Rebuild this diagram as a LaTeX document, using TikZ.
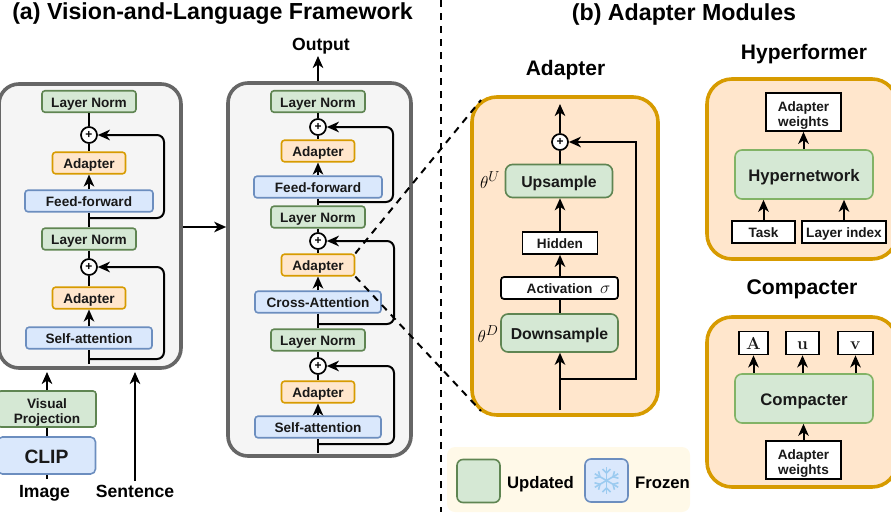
\documentclass[tikz,border=0pt]{standalone}
\usepackage[no-math]{fontspec}
\setmainfont{Liberation Sans}
\usetikzlibrary{arrows.meta}
\definecolor{gfill}{HTML}{D5E8D4}\definecolor{gline}{HTML}{5F8552}
\definecolor{bfill}{HTML}{DAE8FC}\definecolor{bline}{HTML}{6C8EBF}
\definecolor{ofill}{HTML}{FFE6CC}\definecolor{oline}{HTML}{D79B00}
\definecolor{panelgray}{HTML}{F5F5F5}\definecolor{panelline}{HTML}{666666}
\definecolor{legendfill}{HTML}{FFF9E8}\definecolor{flake}{HTML}{9CCBF0}
\definecolor{hgreen}{HTML}{82B366}
\tikzset{
 x=1pt,y=-1pt,
 txt/.style={font=\fontsize{#1}{#1}\selectfont\bfseries,text height=0.72*#1 pt,text depth=0pt},
 btxt/.style={font=\fontsize{#1}{#1}\selectfont\bfseries,text height=0.82*#1 pt,text depth=0pt},
 box/.style={draw,line width=1.6pt,inner sep=0pt,align=center,btxt=13.6,text=black!90},
 twoline/.style={text height=28.2pt,text depth=0pt},
 gbox/.style={box,fill=gfill,draw=gline,rounded corners=3pt,minimum height=21.5pt,minimum width=94pt},
 bbox/.style={box,fill=bfill,draw=bline,rounded corners=3pt,minimum height=21.5pt},
 obox/.style={box,fill=ofill,draw=oline,rounded corners=3pt,minimum height=21.5pt,minimum width=73pt},
 wbox/.style={box,fill=white,draw=black,line width=1.7pt},
 hgbox/.style={box,fill=gfill,draw=hgreen,rounded corners=7pt,minimum width=138pt,minimum height=49pt,btxt=16.7},
 plusnode/.style={circle,draw=black,fill=white,line width=1.7pt,minimum size=16pt,inner sep=0pt,font=\fontsize{12}{12}\selectfont\bfseries},
 panel/.style={draw=panelline,fill=panelgray,line width=3.6pt,rounded corners=20pt,inner sep=0pt},
 opanel/.style={draw=oline,fill=ofill,line width=3.6pt,rounded corners=25pt,inner sep=0pt},
 conn/.style={line width=2pt,draw=black},
 arr/.style={conn,-{Stealth[length=12pt,width=10.5pt,inset=3.5pt]}},
 branch/.style={arr,rounded corners=7pt},
 label/.style={inner sep=0pt,txt=#1},
 dashline/.style={line width=2pt,dash pattern=on 7pt off 6pt},
 math/.style={inner sep=0pt,font=\fontsize{19}{19}\selectfont},
 letter/.style={wbox,font=\fontsize{18}{18}\selectfont,text height=12pt,text depth=0pt,minimum height=23pt},
}
\begin{document}
\begin{tikzpicture}
\useasboundingbox (0,0) rectangle (891,512);
% titles
\node[label=23.2] (ta) at (212.5,11.5) {(a) Vision-and-Language Framework};
\node[label=23.2] (tb) at (684,12) {(b) Adapter Modules};
\node[label=17.6] (tout) at (321,44) {Output};
\node[label=21] (tad) at (565.5,68) {Adapter};
\node[label=21] (thy) at (804,52) {Hyperformer};
\node[label=21.2] (tco) at (802,287) {Compacter};
% left panel
\node[panel,minimum width=182pt,minimum height=284pt] (pl) at (90,226) {};
\node[gbox] (l1) at (89,101.5) {Layer Norm};
\node[plusnode] (lp1) at (89,135) {+};
\node[obox] (la1) at (89,163) {Adapter};
\node[bbox,minimum width=128pt] (lf) at (89,201) {Feed-forward};
\node[gbox] (l2) at (89,239) {Layer Norm};
\node[plusnode] (lp2) at (89,267) {+};
\node[obox] (la2) at (89,298) {Adapter};
\node[bbox,minimum width=126pt] (ls) at (89,338) {Self-attention};
\coordinate (lb1) at (89,218);\coordinate (lc1) at (164,218);\coordinate (lc2) at (164,135);
\coordinate (lb2) at (89,359);\coordinate (lc3) at (164,359);\coordinate (lc4) at (164,267);\coordinate (lbot) at (89,364);
\draw[conn] (l1) -- (lp1); \draw[conn] (lp1) -- (la1); \draw[arr] (lf) -- (la1);
\draw[conn] (lf) -- (l2); \draw[conn] (l2) -- (lp2); \draw[conn] (lp2) -- (la2);
\draw[arr] (ls) -- (la2); \draw[conn] (lbot) -- (ls);
\draw[branch] (lb1) -- (lc1) -- (lc2) -- (lp1.east);
\draw[branch] (lb2) -- (lc3) -- (lc4) -- (lp2.east);
% middle panel
\node[panel,minimum width=183pt,minimum height=373pt] (pm) at (319.5,269.5) {};
\node[gbox] (m1) at (318,101.5) {Layer Norm};
\node[plusnode] (mp1) at (318,127) {+};
\node[obox] (ma1) at (318,151) {Adapter};
\node[bbox,minimum width=128pt] (mf) at (318,187) {Feed-forward};
\node[gbox] (m2) at (318,217) {Layer Norm};
\node[plusnode] (mp2) at (318,241) {+};
\node[obox] (ma2) at (318,265) {Adapter};
\node[bbox,minimum width=126pt] (mc) at (318,302) {Cross-Attention};
\node[gbox] (m3) at (318,340) {Layer Norm};
\node[plusnode] (mp3) at (318,366) {+};
\node[obox] (ma3) at (318,392) {Adapter};
\node[bbox,minimum width=126pt] (ms) at (318,427) {Self-attention};
\coordinate (mb1) at (318,202);\coordinate (mc1) at (393,202);\coordinate (mc2) at (393,127);
\coordinate (mb2) at (318,324);\coordinate (mc3) at (394,324);\coordinate (mc4) at (394,241);
\coordinate (mb3) at (318,444);\coordinate (mc5) at (394,444);\coordinate (mc6) at (394,366);\coordinate (mbot) at (318,453);
\coordinate (mout) at (318,56);
\draw[arr] (pm.north -| m1) -- (mout);
\draw[conn] (m1) -- (mp1); \draw[conn] (mp1) -- (ma1); \draw[arr] (mf) -- (ma1);
\draw[conn] (mf) -- (m2); \draw[conn] (m2) -- (mp2); \draw[conn] (mp2) -- (ma2);
\draw[arr] (mc) -- (ma2); \draw[conn] (mc) -- (m3); \draw[conn] (m3) -- (mp3); \draw[conn] (mp3) -- (ma3);
\draw[arr] (ms) -- (ma3); \draw[conn] (mbot) -- (ms);
\draw[branch] (mb1) -- (mc1) -- (mc2) -- (mp1.east);
\draw[branch] (mb2) -- (mc3) -- (mc4) -- (mp2.east);
\draw[branch] (mb3) -- (mc5) -- (mc6) -- (mp3.east);
\coordinate (ly) at (0,227);
\draw[arr] (pl.east |- ly) -- (pm.west |- ly);
% bottom left
\node[gbox,twoline,minimum width=98pt,minimum height=36pt] (vp) at (47,409) {Visual\\[1pt]Projection};
\node[bbox,minimum width=98pt,minimum height=37pt,rounded corners=5pt,btxt=19.3] (clip) at (46.5,455.5) {CLIP};
\node[label=17.6] (img) at (44.5,491) {Image};
\node[label=17.6] (sen) at (135,491) {Sentence};
\coordinate (vpt) at (47,372);\coordinate (sent) at (135,372);\coordinate (sb) at (135,481);\coordinate (imt) at (47,479);
\draw[conn] (imt) -- (clip.south -| imt); \draw[conn] (clip.north -| vp) -- (vp.south);
\draw[arr] (vp.north) -- (vpt); \draw[arr] (sb) -- (sent);
% adapter panel
\node[opanel,minimum width=186pt,minimum height=318pt] (pa) at (565,256) {};
\node[plusnode] (ap) at (560,142) {+};
\node[hgbox,draw=gline,minimum width=107pt,minimum height=33pt,btxt=15.8] (up) at (559,181) {Upsample};
\node[wbox,minimum width=75pt,minimum height=22pt] (hid) at (560,243) {Hidden};
\node[wbox,rounded corners=3pt,minimum width=117pt,minimum height=22pt] (act) at (559.5,288) {\hspace*{18pt}Activation\ \ {\fontsize{18}{18}\selectfont$\sigma$}};
\node[hgbox,draw=gline,minimum width=117pt,minimum height=38pt,btxt=15.8] (down) at (559.5,333) {Downsample};
\node[math] (tu) at (490,180) {$\theta^{U}$};
\node[math] (td) at (488,334) {$\theta^{D}$};
\coordinate (atop) at (560,104);\coordinate (abot) at (560,410);\coordinate (ab) at (560,379);\coordinate (ac1) at (636,379);\coordinate (ac2) at (636,142);
\draw[arr] (ap) -- (atop); \draw[conn] (up.north -| ap) -- (ap);
\draw[arr] (hid) -- (up.south -| hid); \draw[arr] (act.north -| hid) -- (hid);
\draw[conn] (down.north -| hid) -- (act.south -| hid);
\draw[arr] (abot) -- (down.south -| abot);
\draw[arr,line join=miter] (ab) -- (ac1) -- (ac2) -- (ap.east);
% dashed
\coordinate (dvt) at (441,0);\coordinate (dvb) at (441,512);
\draw[dashline] (dvt) -- (dvb);
\coordinate (dt) at (481,100);\coordinate (db) at (481,411);
\draw[dashline] (ma2.north east) -- (dt);
\draw[dashline] (ma2.south east) -- (db);
% legend
\node[fill=legendfill,rounded corners=8pt,minimum width=243pt,minimum height=65pt,inner sep=0pt] (leg) at (568.5,479.5) {};
\node[box,fill=gfill,draw=gline,rounded corners=6pt,minimum size=43pt] (lu) at (478.5,481) {};
\node[box,fill=bfill,draw=bline,rounded corners=6pt,minimum size=43pt] (lfz) at (606.5,480.5) {};
\node[label=16.7] (tup) at (540.5,482) {Updated};
\node[label=16.7,anchor=west] (tfz) at (635,482) {Frozen};
\foreach \a in {0,60,120,180,240,300}{
 \begin{scope}[shift={(lfz.center)},rotate=\a,line width=1.6pt]
 \draw[flake] (0,0) -- (0,-13.5);
 \draw[flake] (-4,-11.5) -- (0,-7.5) -- (4,-11.5);
 \end{scope}}
% hyperformer
\node[opanel,minimum width=190pt,minimum height=180pt] (ph) at (802,169) {};
\node[wbox,twoline,minimum width=75pt,minimum height=38pt] (aw) at (803.5,112) {Adapter\\[1pt]weights};
\node[hgbox] (hn) at (804,174.5) {Hypernetwork};
\node[wbox,minimum width=63pt,minimum height=22pt] (task) at (763.5,232) {Task};
\node[wbox,minimum width=84pt,minimum height=22pt] (li) at (844,232) {Layer index};
\draw[arr] (hn.north -| aw) -- (aw);
\draw[arr] (task) -- (hn.south -| task); \draw[arr] (li) -- (hn.south -| li);
% compacter
\node[opanel,minimum width=190pt,minimum height=170pt] (pc) at (802,402) {};
\node[letter,minimum width=29pt] (va) at (753.5,343) {$\mathbf{A}$};
\node[letter,minimum width=33pt] (vu) at (802.5,343) {$\mathbf{u}$};
\node[letter,minimum width=35pt] (vv) at (855.5,343) {$\mathbf{v}$};
\node[hgbox] (cn) at (804,398.5) {Compacter};
\node[wbox,twoline,minimum width=75pt,minimum height=38pt] (aw2) at (803.5,460) {Adapter\\[1pt]weights};
\draw[arr] (cn.north -| va) -- (va); \draw[arr] (cn.north -| vu) -- (vu); \draw[arr] (cn.north -| vv) -- (vv);
\draw[arr] (aw2) -- (cn.south -| aw2);
\end{tikzpicture}
\end{document}
